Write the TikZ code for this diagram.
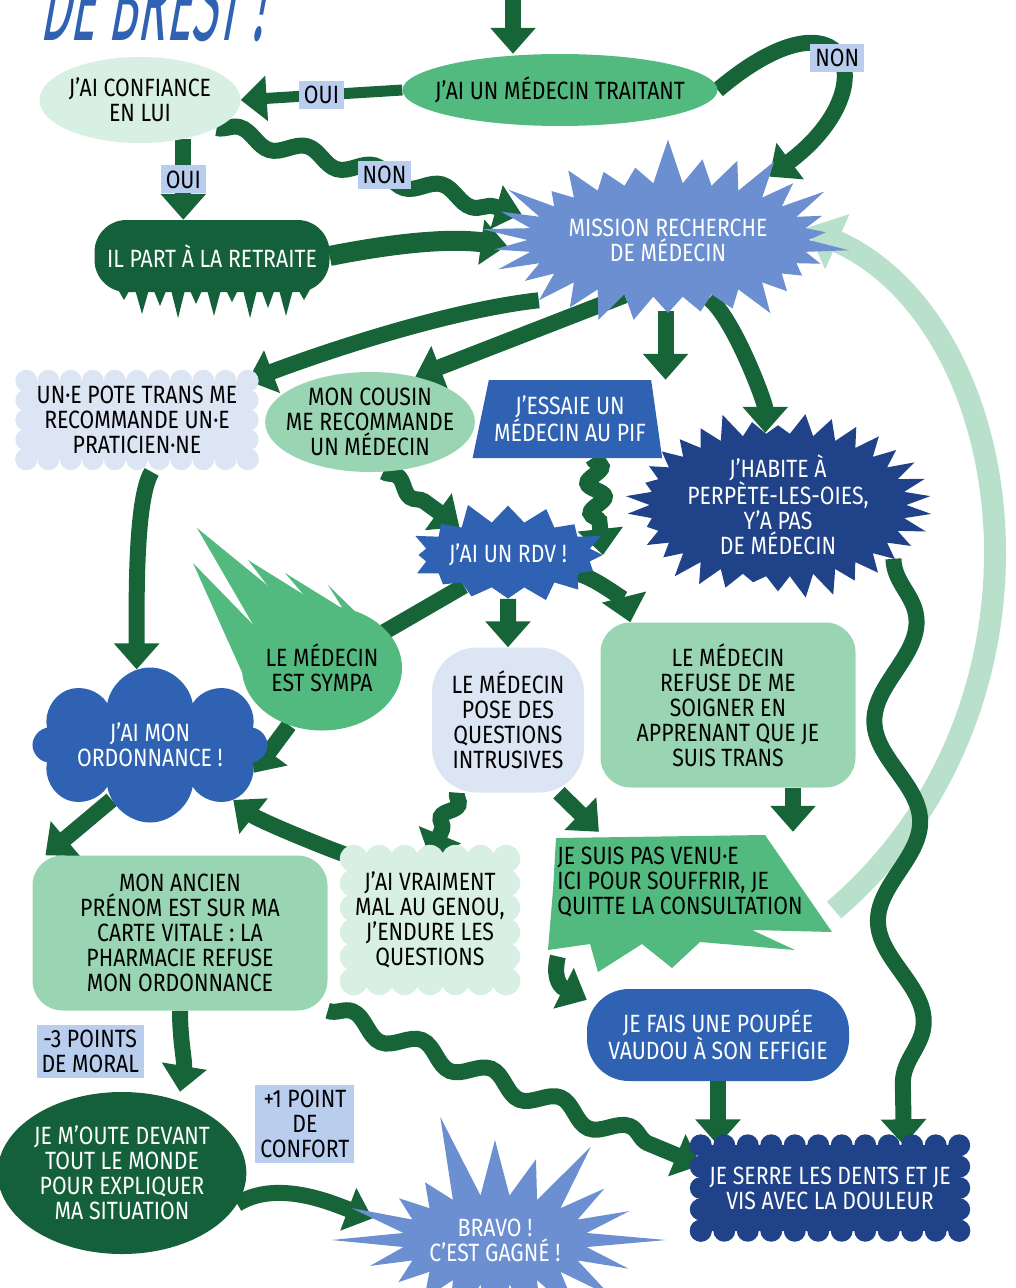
\documentclass[tikz,border=0pt]{standalone}
\usepackage{fontspec}
\setmainfont[FakeStretch=0.85]{Fira Sans}
\newfontfamily\titlefont[FakeStretch=0.43,FakeSlant=0.18]{Fira Sans}
\usepackage{tikz}
\usetikzlibrary{shapes,arrows.meta,positioning,decorations.pathmorphing,backgrounds,calc}
\definecolor{arrowgreen}{RGB}{23,100,56}
\definecolor{palegreen}{RGB}{184,224,203}
\definecolor{tagblue}{RGB}{185,205,238}
\definecolor{leaf}{RGB}{82,185,127}
\definecolor{softgreen}{RGB}{153,213,178}
\definecolor{mint}{RGB}{216,239,228}
\definecolor{mist}{RGB}{219,229,244}
\definecolor{forest}{RGB}{20,96,58}
\definecolor{sky}{RGB}{107,143,209}
\definecolor{royal}{RGB}{47,98,178}
\definecolor{navy}{RGB}{31,66,136}
\tikzset{hope/.style={ellipse, fill=leaf, text=black, align=center, inner sep=0pt}}
\tikzset{trust/.style={ellipse, fill=mint, text=black, align=center, inner sep=0pt}}
\tikzset{advice/.style={ellipse, fill=softgreen, text=black, align=center, inner sep=0pt}}
\tikzset{worry/.style={rectangle, rounded corners=30pt, fill=softgreen, text=black, align=center}}
\tikzset{burst/.style={starburst, fill=sky, text=white, align=center, inner sep=0pt}}
\tikzset{tag/.style={rectangle, fill=tagblue, text=black, align=center, inner sep=5pt}}
\tikzset{flow/.style={draw=arrowgreen, line width=16pt, -{Triangle[width=44pt,length=26pt]}}}
\tikzset{wave/.style={flow, decorate, decoration={snake, amplitude=7pt, segment length=70pt, post length=28pt}}}
\tikzset{back/.style={draw=palegreen, line width=22pt, -{Triangle[width=58pt,length=34pt]}}}
% scalloped box behind a node: node, colour, puffs across, puffs down, puff radius
\newcommand{\puffbox}[5]{%
  \fill[#2] (#1.north west) rectangle (#1.south east);
  \foreach \i in {0,...,#3} {
    \fill[#2] ($(#1.north west)!\i/#3!(#1.north east)$) circle (#5);
    \fill[#2] ($(#1.south west)!\i/#3!(#1.south east)$) circle (#5);
  }
  \foreach \i in {1,...,#4} {
    \fill[#2] ($(#1.north west)!\i/#4!(#1.south west)$) circle (#5);
    \fill[#2] ($(#1.north east)!\i/#4!(#1.south east)$) circle (#5);
  }}

\begin{document}
\begin{tikzpicture}[x=1pt, y=-1pt, every node/.style={font=\fontsize{25}{25}\selectfont}]
\useasboundingbox (0,0) rectangle (1015,1288);

% title, cut by the top edge
\node[anchor=base west, text=royal, font=\titlefont\fontsize{110}{110}\selectfont] (title) at (36,40) {DE BREST !};

% top row
\node[hope, inner xsep=-30pt, minimum width=315pt, minimum height=72pt] (traitant) at (560,90) {J'AI UN MÉDECIN TRAITANT};
\node[trust, minimum width=200pt, minimum height=86pt] (confiance) at (140,100) {J'AI CONFIANCE\\EN LUI};
\node[rectangle, rounded corners=32pt, fill=forest, text=white, inner xsep=4pt, minimum width=235pt, minimum height=72pt] (retraite) at (212,256) {IL PART À LA RETRAITE};
\foreach \x/\h in {116/300,134/314,152/306,170/318,188/304,206/316,224/302,242/318,260/308,278/316,296/300}
  \fill[forest] (\x,286) -- (\x+8,\h) -- (\x+16,286) -- cycle;
\node[burst, starburst points=30, starburst point height=48pt, random starburst=7, minimum width=265pt, minimum height=210pt] (mission) at (668,240) {MISSION RECHERCHE\\DE MÉDECIN};

% the ways to find one
\node[align=center, minimum width=221pt, minimum height=78pt, inner sep=0pt] (pote) at (137,420) {UN·E POTE TRANS ME\\RECOMMANDE UN·E\\PRATICIEN·NE};
\node[advice, inner xsep=-10pt, minimum width=205pt, minimum height=100pt] (cousin) at (370,422) {MON COUSIN\\ME RECOMMANDE\\UN MÉDECIN};
\node[trapezium, trapezium stretches=true, trapezium left angle=74, trapezium right angle=79, fill=royal, text=white, align=center, minimum width=190pt, minimum height=78pt, inner xsep=0pt] (essaie) at (570,419) {J'ESSAIE UN\\MÉDECIN AU PIF};
\node[burst, starburst points=34, starburst point height=26pt, random starburst=3, fill=navy, minimum width=255pt, minimum height=195pt] (habite) at (778,505) {J'HABITE À\\PERPÈTE-LES-OIES,\\Y'A PAS\\DE MÉDECIN};
\node[burst, starburst points=16, starburst point height=22pt, random starburst=11, fill=royal, minimum width=188pt, minimum height=110pt] (rdv) at (508,555) {J'AI UN RDV !};

% the appointment
\fill[leaf] (250,690) -- (193,563) -- (268,640) -- cycle;
\fill[leaf] (262,640) -- (197,528) -- (300,612) -- cycle;
\fill[leaf] (290,615) -- (248,560) -- (322,606) -- cycle;
\fill[leaf] (315,608) -- (285,573) -- (348,612) -- cycle;
\fill[leaf] (345,612) -- (328,585) -- (372,628) -- cycle;
\node[hope, minimum width=160pt, minimum height=125pt] (sympa) at (322,668) {LE MÉDECIN\\EST SYMPA};
\node[rectangle, rounded corners=45pt, fill=mist, align=center, minimum width=152pt, minimum height=145pt] (questions) at (508,720) {LE MÉDECIN\\POSE DES\\QUESTIONS\\INTRUSIVES};
\node[worry, minimum width=255pt, minimum height=165pt] (refuse) at (728,705) {LE MÉDECIN\\REFUSE DE ME\\SOIGNER EN\\APPRENANT QUE JE\\SUIS TRANS};
\node[cloud, cloud puffs=8, cloud puff arc=160, cloud ignores aspect, fill=royal, text=white, align=center, minimum width=235pt, minimum height=155pt] (ordonnance) at (150,745) {J'AI MON\\ORDONNANCE !};

% what follows
\node[worry, minimum width=295pt, minimum height=155pt] (ancien) at (180,933) {MON ANCIEN\\PRÉNOM EST SUR MA\\CARTE VITALE : LA\\PHARMACIE REFUSE\\MON ORDONNANCE};
\node[align=center, minimum width=152pt, minimum height=122pt, inner sep=0pt] (vraiment) at (430,920) {J'AI VRAIMENT\\MAL AU GENOU,\\J'ENDURE LES\\QUESTIONS};
\fill[leaf] (556,838) -- (765,835) -- (832,932) -- (752,930) -- (795,950) -- (700,942) -- (672,968) -- (642,944) -- (598,972) -- (590,944) -- (548,950) -- (553,890) -- cycle;
\node[align=left, minimum width=240pt, minimum height=100pt] (venu) at (680,882) {JE SUIS PAS VENU·E\\ICI POUR SOUFFRIR, JE\\QUITTE LA CONSULTATION};
\node[ellipse, fill=forest, text=white, align=center, minimum width=240pt, minimum height=162pt, inner sep=0pt] (oute) at (122,1173) {JE M'OUTE DEVANT\\TOUT LE MONDE\\POUR EXPLIQUER\\MA SITUATION};
\node[burst, starburst points=20, starburst point height=90pt, random starburst=5, minimum width=350pt, minimum height=270pt] (bravo) at (495,1240) {BRAVO !\\C'EST GAGNÉ !};
\node[rectangle, rounded corners=42pt, fill=royal, text=white, align=center, minimum width=262pt, minimum height=92pt] (poupee) at (718,1035) {JE FAIS UNE POUPÉE\\VAUDOU À SON EFFIGIE};
\node[text=white, align=center, minimum width=258pt, minimum height=85pt, inner sep=0pt] (serre) at (830,1188) {JE SERRE LES DENTS ET JE\\VIS AVEC LA DOULEUR};

% arrows
\begin{pgfonlayer}{background}
\coordinate (entry) at (513,-6);
\draw[flow] (entry) -- (entry |- traitant.north);
\draw[flow, line width=11pt] (traitant.west) -- node[tag]{OUI} (confiance.east);
\draw[flow] (traitant.east) .. controls +(130,-110) and +(120,-90) .. node[tag, pos=0.5]{NON} (mission.32);
\draw[flow] (confiance.318) -- node[tag]{OUI} (confiance.318 |- retraite.north);
\draw[wave] (confiance.340) -- node[tag, pos=0.55]{NON} (mission.170);
\draw[flow, line width=20pt] (retraite.east) .. controls +(60,-12) and +(-60,-8) .. (mission.182);
\draw[flow] (mission.205) .. controls +(-90,10) and +(80,-30) .. (pote.north east);
\draw[flow] (mission.232) -- (cousin.45);
\draw[flow] (mission.268) -- (mission.268 |- essaie.north);
\draw[flow] (mission.305) .. controls +(25,20) and +(0,-30) .. (habite.100);
\draw[flow, shorten <=15pt] (pote.300) .. controls +(-25,40) and +(0,-60) .. (ordonnance.100);
\draw[wave, decoration={amplitude=5pt, segment length=45pt, post length=24pt}] (cousin.285) -- (rdv.150);
\draw[wave, decoration={amplitude=8pt, segment length=30pt, post length=24pt}] (essaie.300) -- (rdv.east);
\draw[flow] (rdv.215) -- (sympa.center);
\draw[flow] (sympa.240) -- (ordonnance.345);
\draw[flow] (rdv.south) -- (questions.north);
\draw[flow] (rdv.345) .. controls +(20,5) and +(-5,-20) .. ([xshift=30pt]refuse.north west);
\draw[wave, decoration={amplitude=6pt, segment length=35pt, post length=24pt}] (questions.235) -- (vraiment.north);
\draw[flow] (questions.305) -- ([xshift=45pt]venu.north west);
\draw[flow] ([xshift=65pt]refuse.south) -- ([xshift=65pt]refuse.south |- venu.north);
\draw[flow] (vraiment.140) .. controls +(-30,-10) and +(25,20) .. (ordonnance.south east);
\draw[flow] (ordonnance.235) -- (ancien.150);
\draw[flow] (ancien.south) .. controls +(0,30) and +(5,-30) .. node[tag, midway, left=30pt]{-3 POINTS\\DE MORAL} (ancien.south |- oute.north);
\draw[flow] (oute.345) .. controls +(40,-25) and +(-40,-15) .. node[tag, midway, above=25pt]{+1 POINT\\DE\\CONFORT} (bravo.170);
\draw[wave, decoration={amplitude=9pt, segment length=75pt, post length=28pt}] (ancien.south east) -- (serre.170);
\draw[flow, shorten <=25pt] ([xshift=10pt]venu.south west) .. controls +(-10,40) and +(-30,-15) .. (poupee.165);
\draw[back] ([xshift=28pt,yshift=-28pt]venu.east) .. controls +(240,-205) and +(215,95) .. (mission.5);
\draw[flow] (poupee.south) -- (poupee.south |- serre.north);
\draw[wave, decoration={amplitude=22pt, segment length=200pt, post length=60pt}] (habite.335) -- (serre.30);
% scalloped boxes
\puffbox{pote}{mist}{10}{4}{11pt}
\puffbox{vraiment}{mint}{6}{5}{14pt}
\puffbox{serre}{navy}{11}{4}{11pt}
\end{pgfonlayer}
\end{tikzpicture}
\end{document}
